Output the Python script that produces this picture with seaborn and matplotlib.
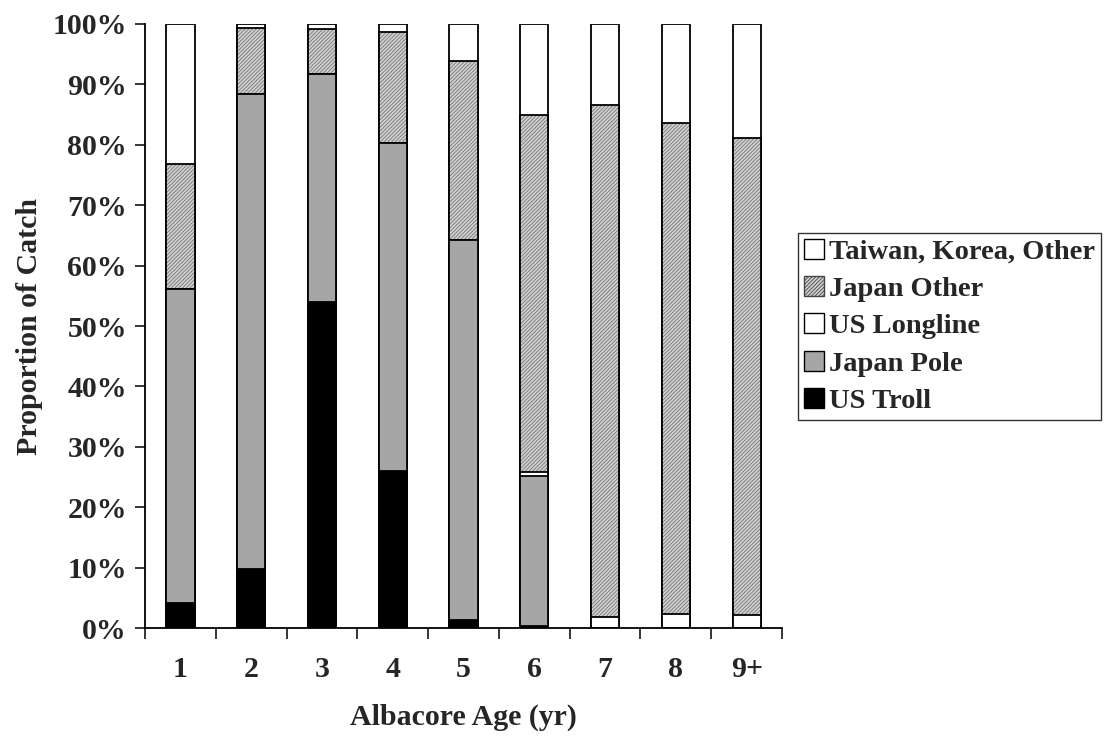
import numpy as np
import pandas as pd
import matplotlib
matplotlib.use("Agg")
import matplotlib.pyplot as plt
import seaborn as sns
from matplotlib.patches import Patch
from matplotlib.ticker import FixedLocator

# values (percent of catch)
ages = ["1", "2", "3", "4", "5", "6", "7", "8", "9+"]
us_troll = [4.2, 9.8, 54.0, 26.0, 1.4, 0.3, 0.0, 0.0, 0.0]
japan_pole = [52.0, 78.6, 37.7, 54.3, 62.9, 24.8, 0.0, 0.0, 0.0]
us_longline = [0.0, 0.0, 0.0, 0.0, 0.0, 0.8, 1.9, 2.3, 2.1]
japan_other = [20.6, 11.0, 7.4, 18.4, 29.5, 59.0, 84.7, 81.3, 79.1]
taiwan_korea = [100 - a - b - c - d for a, b, c, d in
                zip(us_troll, japan_pole, us_longline, japan_other)]

series = ["US Troll", "Japan Pole", "US Longline", "Japan Other", "Taiwan, Korea, Other"]
values = [us_troll, japan_pole, us_longline, japan_other, taiwan_korea]
fills = ["black", "#a6a6a6", "white", "#d0d0d0", "white"]

df = pd.DataFrame(dict(zip(series, values)), index=ages)
cum = df.cumsum(axis=1)

sns.set_style("white")
plt.rcParams["font.family"] = ["Liberation Serif", "DejaVu Serif"]
plt.rcParams["font.weight"] = "bold"
plt.rcParams["hatch.linewidth"] = 0.6

FS = 21.5

fig = plt.figure(figsize=(11.06, 7.36), dpi=100)
ax = fig.add_axes([0.1311, 0.1467, 0.5760, 0.8207])

# draw stacked bars from the top series down so each one covers the next
for name, col in reversed(list(zip(series, fills))):
    d = pd.DataFrame({"age": ages, "val": cum[name].values})
    if name == "Japan Other":
        sns.barplot(data=d, x="age", y="val", ax=ax, color=col, width=0.4,
                    saturation=1, hatch="/////////", edgecolor="#777777", linewidth=0)
        sns.barplot(data=d, x="age", y="val", ax=ax, fill=False, width=0.4,
                    edgecolor="black", linewidth=1.3)
    else:
        sns.barplot(data=d, x="age", y="val", ax=ax, color=col, width=0.4,
                    saturation=1, edgecolor="black", linewidth=1.3)

ax.set_xlim(-0.5, 8.5)
ax.set_ylim(0, 100)
ax.set_yticks(np.arange(0, 101, 10))
ax.set_yticklabels([f"{v}%" for v in range(0, 101, 10)], fontsize=FS, fontweight="bold")
ax.set_xticks(range(len(ages)))
ax.set_xticklabels(ages, fontsize=FS, fontweight="bold")
ax.xaxis.set_minor_locator(FixedLocator(np.arange(-0.5, 9, 1)))
ax.tick_params(axis="x", which="major", length=0, pad=20)
ax.tick_params(axis="x", which="minor", length=8, width=1.3, direction="out", bottom=True)
ax.tick_params(axis="y", length=7, width=1.3, direction="out", left=True, pad=6)

sns.despine(ax=ax)
for s in ["left", "bottom"]:
    ax.spines[s].set_color("black")
    ax.spines[s].set_linewidth(1.3)

ax.set_xlabel("Albacore Age (yr)", fontsize=FS, fontweight="bold", labelpad=15)
ax.set_ylabel("Proportion of Catch", fontsize=FS, fontweight="bold", labelpad=7)

handles = []
for name, col in reversed(list(zip(series, fills))):
    if name == "Japan Other":
        handles.append(Patch(facecolor=col, edgecolor="#444444", hatch="/////////", label=name))
    else:
        handles.append(Patch(facecolor=col, edgecolor="black", label=name))
leg = fig.legend(handles=handles, loc="upper left", bbox_to_anchor=(0.7215, 0.6834),
                 prop={"size": 20.5, "weight": "bold"}, handlelength=0.7, handleheight=0.7,
                 handletextpad=0.2, labelspacing=0.4, borderpad=0.2, borderaxespad=0,
                 frameon=True, fancybox=False)
leg.get_frame().set_edgecolor("black")
leg.get_frame().set_linewidth(1.0)

fig.savefig("out.png", dpi=100)
